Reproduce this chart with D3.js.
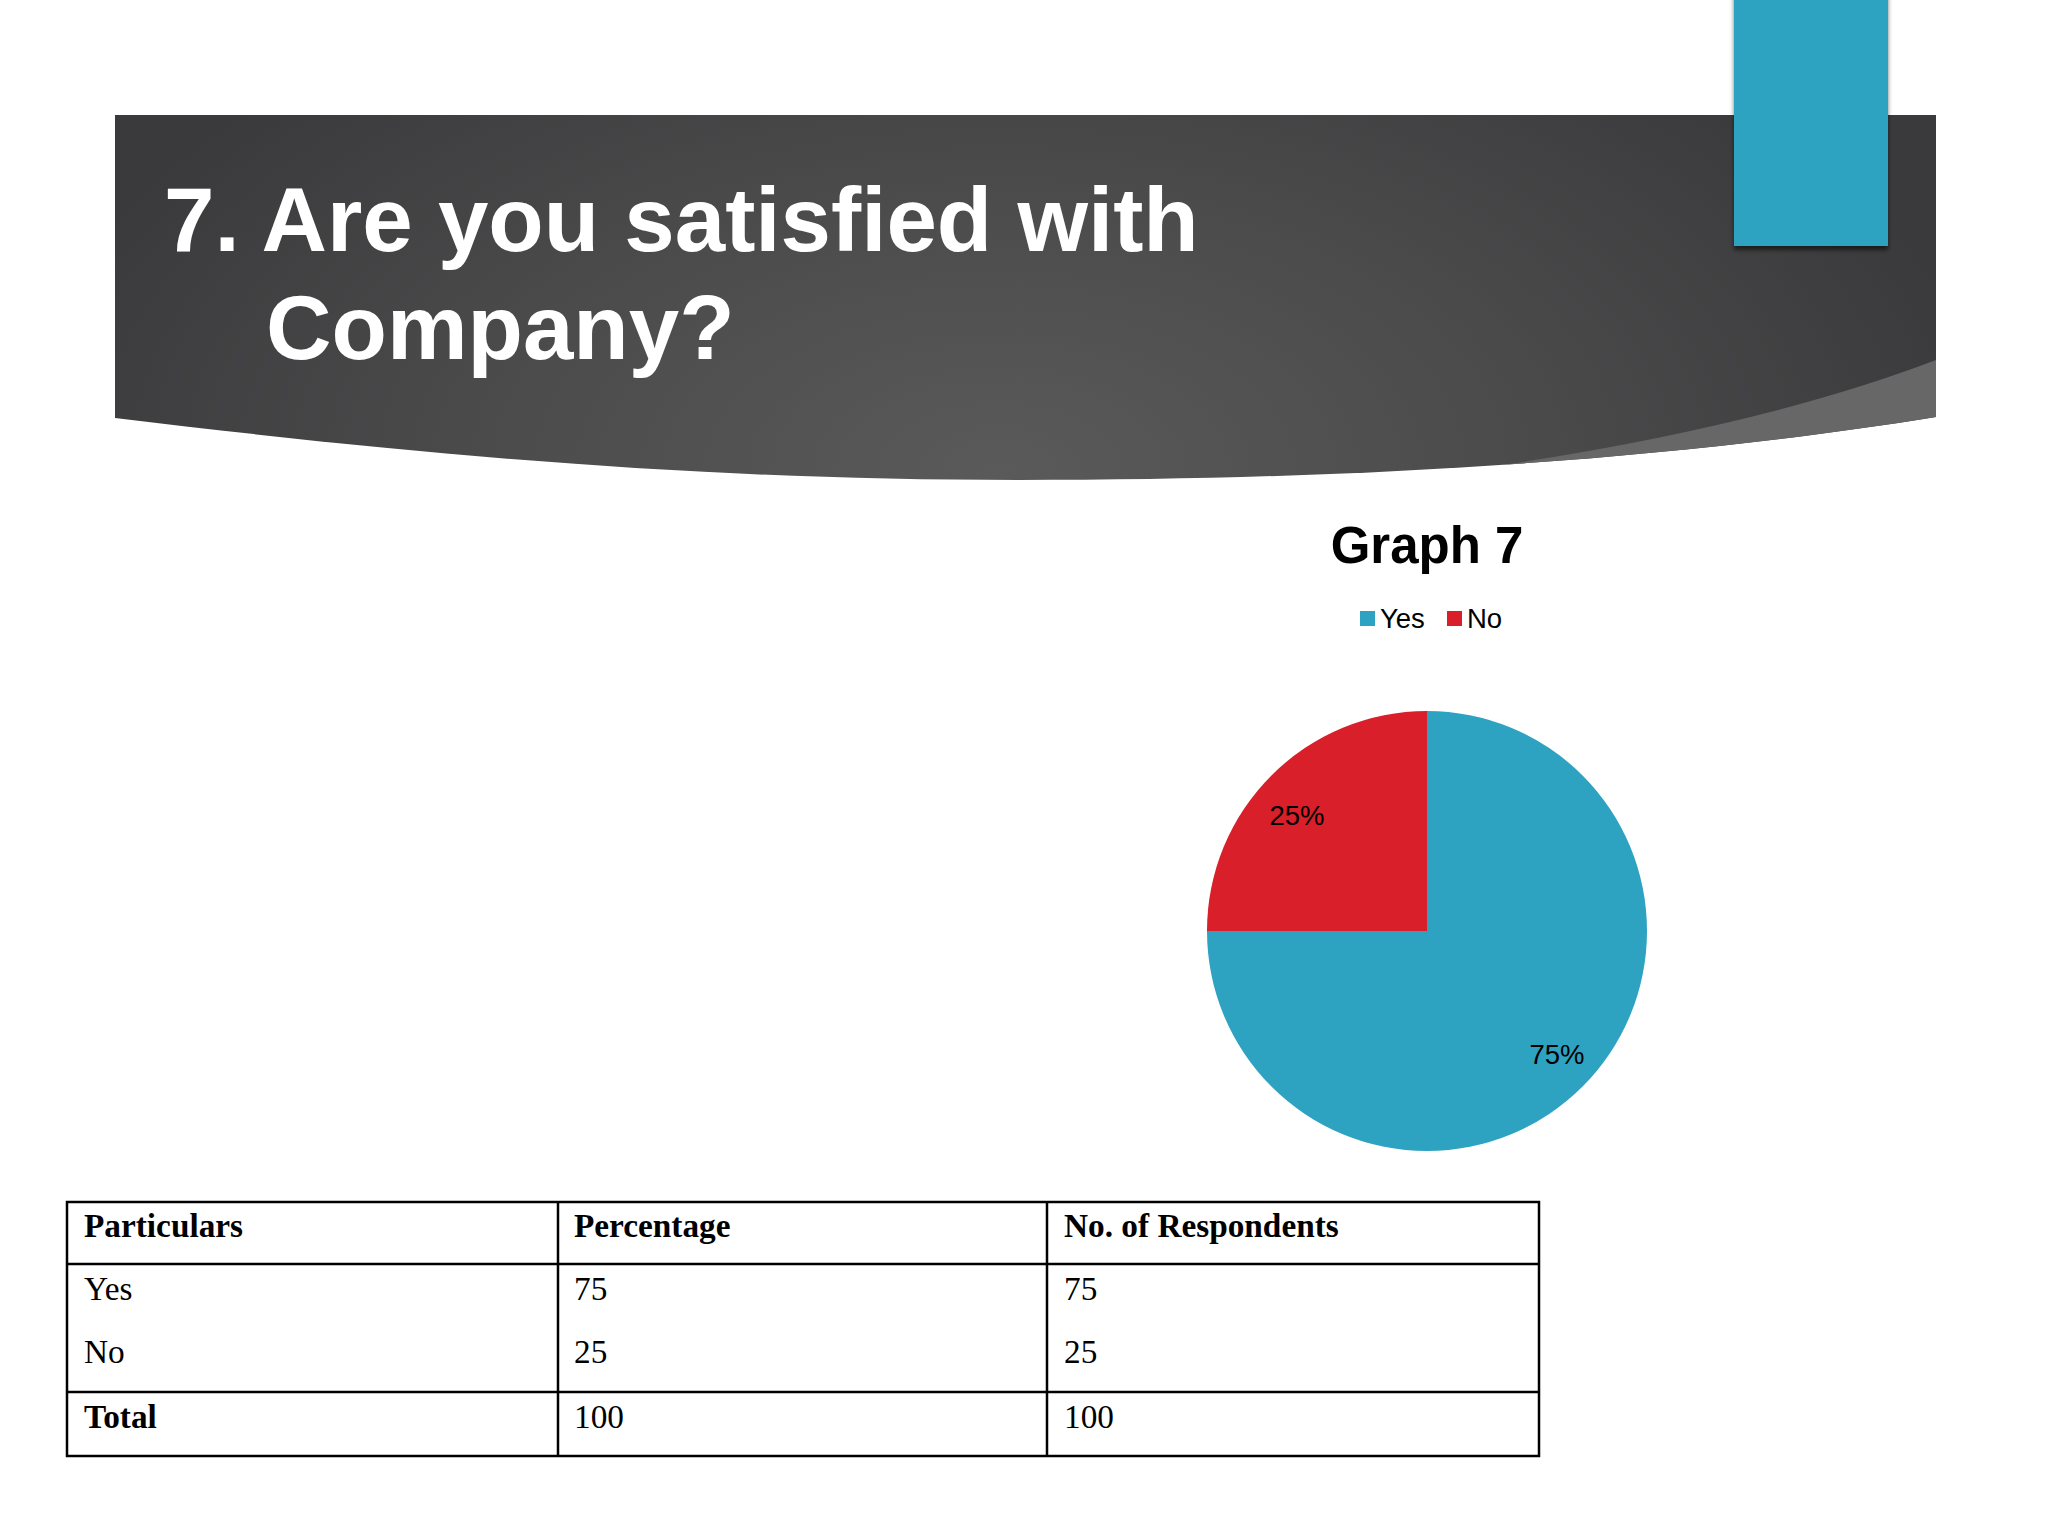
<!DOCTYPE html>
<html>
<head>
<meta charset="utf-8">
<script src="https://cdn.jsdelivr.net/npm/d3@7"></script>
<style>
  html, body { margin: 0; padding: 0; background: #ffffff; }
  svg { display: block; }
</style>
</head>
<body>
<script>
// ---- data ----
const titleLines = ["7. Are you satisfied with", "Company?"];
const chartTitle = "Graph 7";
const categories = ["Yes", "No"];
const percentages = [75, 25];
const respondents = [75, 25];
const totalPercentage = 100;
const totalRespondents = 100;
const tableHeaders = ["Particulars", "Percentage", "No. of Respondents"];
const sliceColors = ["#2EA2C1", "#D81F2A"];

const W = 2048, H = 1536;
const svg = d3.select("body").append("svg").attr("width", W).attr("height", H);
const defs = svg.append("defs");

// ---- banner ----
const bg = defs.append("radialGradient").attr("id", "bannerGrad")
  .attr("gradientUnits", "userSpaceOnUse")
  .attr("cx", 1000).attr("cy", 470).attr("r", 1000)
  .attr("gradientTransform", "translate(1000,470) scale(1,0.55) translate(-1000,-470)");
bg.append("stop").attr("offset", "0").attr("stop-color", "#5a5a5a");
bg.append("stop").attr("offset", "0.55").attr("stop-color", "#4a4a4b");
bg.append("stop").attr("offset", "1").attr("stop-color", "#3a3a3c");

const bannerPath = "M115,115 H1936 V417 C1700,455 1400,480 1019,480 C700,480 420,455 115,418 Z";
defs.append("clipPath").attr("id", "bannerClip").append("path").attr("d", bannerPath);

svg.append("path").attr("d", bannerPath).attr("fill", "url(#bannerGrad)");
svg.append("path")
  .attr("d", "M1936,360 Q1700,450 1300,490 L1936,495 Z")
  .attr("fill", "#676767")
  .attr("clip-path", "url(#bannerClip)");

// teal accent rectangle with shadow
const sh = defs.append("filter").attr("id", "shadow").attr("x", "-20%").attr("y", "-20%").attr("width", "140%").attr("height", "140%");
sh.append("feDropShadow").attr("dx", 0).attr("dy", 4).attr("stdDeviation", 2).attr("flood-color", "#000").attr("flood-opacity", 0.55);
svg.append("rect").attr("x", 1734).attr("y", -10).attr("width", 154).attr("height", 256)
  .attr("fill", "#2EA2C1").attr("filter", "url(#shadow)");

// title
const title = svg.append("text")
  .attr("font-family", "'Liberation Sans', Arial, sans-serif")
  .attr("font-weight", "bold").attr("font-size", 90.7).attr("fill", "#ffffff");
title.append("tspan").attr("x", 164).attr("y", 251).text(titleLines[0]);
title.append("tspan").attr("x", 266).attr("y", 359).text(titleLines[1]);

// ---- pie chart ----
const cx = 1427, cy = 931, R = 220;
svg.append("text").attr("x", cx).attr("y", 563).attr("text-anchor", "middle")
  .attr("font-family", "'Liberation Sans', Arial, sans-serif").attr("font-weight", "bold")
  .attr("font-size", 51).attr("fill", "#000").text(chartTitle);

// legend
const legend = svg.append("g").attr("font-family", "'Liberation Sans', Arial, sans-serif").attr("font-size", 27.5);
const legX = [1360, 1447];
categories.forEach((c, i) => {
  legend.append("rect").attr("x", legX[i]).attr("y", 611).attr("width", 15).attr("height", 15).attr("fill", sliceColors[i]);
  legend.append("text").attr("x", legX[i] + 20).attr("y", 628).attr("fill", "#000").text(c);
});

const pieData = d3.pie().sort(null).value(d => d.v)(categories.map((c, i) => ({ c, v: percentages[i], color: sliceColors[i] })));
const arc = d3.arc().innerRadius(0).outerRadius(R);
const labelArc = d3.arc().innerRadius(R * 0.8).outerRadius(R * 0.8);
const pg = svg.append("g").attr("transform", `translate(${cx},${cy})`);
pg.selectAll("path").data(pieData).join("path").attr("d", arc).attr("fill", d => d.data.color);
const total = d3.sum(percentages);
pg.selectAll("text").data(pieData).join("text")
  .attr("transform", d => { const [x, y] = labelArc.centroid(d); return `translate(${x * 1.045},${y * 0.96 + 4})`; })
  .attr("text-anchor", "middle").attr("dy", "0.35em")
  .attr("font-family", "'Liberation Sans', Arial, sans-serif").attr("font-size", 27.5).attr("fill", "#000")
  .text(d => Math.round(d.data.v / total * 100) + "%");

// ---- table ----
const tx = [67, 558, 1047, 1539];
const ty = [1202, 1264, 1392, 1456];
const tg = svg.append("g").attr("font-family", "'Liberation Serif', 'Times New Roman', serif").attr("font-size", 33.3).attr("fill", "#000");
tg.append("rect").attr("x", tx[0]).attr("y", ty[0]).attr("width", tx[3] - tx[0]).attr("height", ty[3] - ty[0])
  .attr("fill", "none").attr("stroke", "#000").attr("stroke-width", 2.5);
[ty[1], ty[2]].forEach(y => tg.append("line").attr("x1", tx[0]).attr("x2", tx[3]).attr("y1", y).attr("y2", y).attr("stroke", "#000").attr("stroke-width", 2.5));
[tx[1], tx[2]].forEach(x => tg.append("line").attr("x1", x).attr("x2", x).attr("y1", ty[0]).attr("y2", ty[3]).attr("stroke", "#000").attr("stroke-width", 2.5));
const textX = [84, 574, 1064];
tableHeaders.forEach((h, i) => tg.append("text").attr("x", textX[i]).attr("y", 1237).attr("font-weight", "bold").text(h));
const rowY = [1300, 1363];
categories.forEach((c, r) => {
  tg.append("text").attr("x", textX[0]).attr("y", rowY[r]).text(c);
  tg.append("text").attr("x", textX[1]).attr("y", rowY[r]).text(percentages[r]);
  tg.append("text").attr("x", textX[2]).attr("y", rowY[r]).text(respondents[r]);
});
tg.append("text").attr("x", textX[0]).attr("y", 1428).attr("font-weight", "bold").text("Total");
tg.append("text").attr("x", textX[1]).attr("y", 1428).text(totalPercentage);
tg.append("text").attr("x", textX[2]).attr("y", 1428).text(totalRespondents);
</script>
</body>
</html>
